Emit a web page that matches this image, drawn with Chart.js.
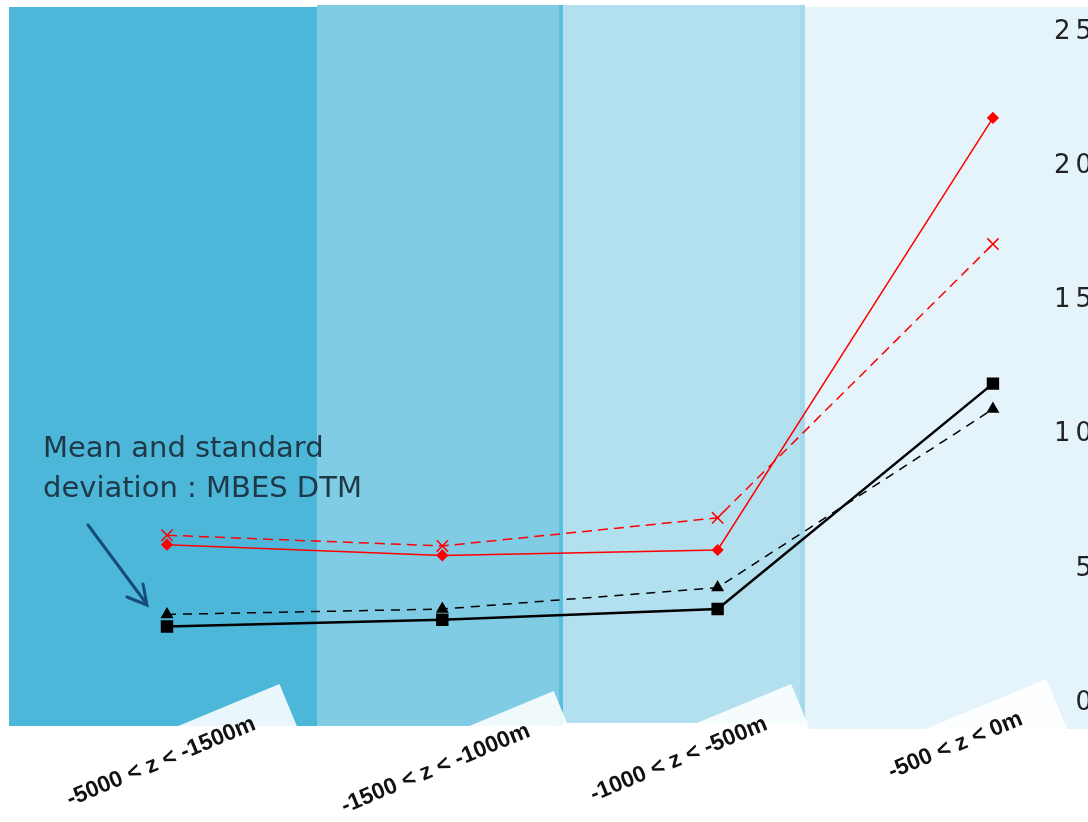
<!DOCTYPE html>
<html>
<head>
<meta charset="utf-8">
<script src="https://cdn.jsdelivr.net/npm/chart.js@4"></script>
<style>
html, body { margin: 0; padding: 0; background: #fff; overflow: hidden; }
#wrap { width: 1097px; height: 822px; }
</style>
</head>
<body>
<div id="wrap"><canvas id="depthChart" width="1097" height="822"></canvas></div>
<script>
// depth classes and values per class
const categories = ['-5000 < z < -1500m', '-1500 < z < -1000m', '-1000 < z < -500m', '-500 < z < 0m'];
const refMean  = [5.9, 5.5, 5.7, 21.8];
const refStd   = [6.25, 5.85, 6.9, 17.1];
const mbesMean = [2.85, 3.1, 3.5, 11.9];
const mbesStd  = [3.3, 3.5, 4.3, 10.95];
const yTicks   = [0, 5, 10, 15, 20, 25];

// classes sit at x = 0..3; the range leaves room for the bands on the left
const xMin = -0.6065;
const xMax = 3.160;

// background depth bands (x in class units, y in axis units)
const bands = [
    { from: -0.574, to: 0.545, top: 25.93, bottom: -0.857, color: '#4DB7DA' },
    { from: 0.545, to: 1.424, top: 26.0, bottom: -0.857, color: '#80CCE4' },
    { from: 1.424, to: 1.438, top: 26.0, bottom: -0.857, color: '#5BBDDF' },
    { from: 2.299, to: 3.6, top: 25.93, bottom: -0.97, color: '#E4F4FA' },
    { from: 1.438, to: 2.317, top: 26.0, bottom: -0.745, color: '#B2E0EE' },
    { from: 2.299, to: 2.317, top: 26.0, bottom: -0.745, color: '#A3D9EB' }
];

// nudges of the slanted class labels from their tick (px)
const labelShift = [[90, 26], [89, 33], [51, 26], [31, 21]];
const labelAngle = 22.5 * Math.PI / 180;
const labelFont = 'bold 23px "Liberation Sans", Arial, sans-serif';

const toPoints = arr => arr.map((v, i) => ({ x: i, y: v }));

const backdrop = {
    id: 'backdrop',
    beforeDraw(chart) {
        const { ctx, scales: { x, y } } = chart;
        ctx.save();
        bands.forEach(b => {
            const x1 = Math.round(x.getPixelForValue(b.from));
            const x2 = Math.round(x.getPixelForValue(b.to));
            const y1 = Math.round(y.getPixelForValue(b.top));
            const y2 = Math.round(y.getPixelForValue(b.bottom));
            ctx.fillStyle = b.color;
            ctx.fillRect(x1, y1, x2 - x1, y2 - y1);
        });
        ctx.restore();
        // extra spacing for the right axis numbers
        ctx.letterSpacing = '5px';
    },
    beforeDatasetsDraw(chart) {
        const { ctx, scales: { x, y } } = chart;
        ctx.letterSpacing = '0px';
        // pale boxes behind the class labels
        categories.forEach((label, i) => {
            ctx.save();
            ctx.translate(x.getPixelForValue(i) + labelShift[i][0], y.getPixelForValue(0) + labelShift[i][1]);
            ctx.rotate(-labelAngle);
            ctx.font = labelFont;
            const w = ctx.measureText(label).width;
            ctx.fillStyle = 'rgba(255,255,255,0.88)';
            ctx.fillRect(-w - 40, -33, w + 78, 60);
            ctx.restore();
        });
    },
    afterDatasetsDraw(chart) {
        const { ctx, scales: { x, y } } = chart;
        ctx.save();
        ctx.fillStyle = '#111';
        ctx.font = labelFont;
        ctx.textAlign = 'right';
        ctx.textBaseline = 'alphabetic';
        categories.forEach((label, i) => {
            ctx.save();
            ctx.translate(x.getPixelForValue(i) + labelShift[i][0], y.getPixelForValue(0) + labelShift[i][1]);
            ctx.rotate(-labelAngle);
            ctx.fillText(label, 0, 0);
            ctx.restore();
        });

        // note with arrow pointing at the MBES curves
        ctx.textAlign = 'left';
        ctx.fillStyle = '#1E3848';
        ctx.font = '29px "DejaVu Sans", sans-serif';
        ctx.fillText('Mean and standard', 43, 457);
        ctx.fillText('deviation : MBES DTM', 43, 497);

        ctx.strokeStyle = '#164C7C';
        ctx.lineWidth = 3;
        ctx.lineCap = 'round';
        ctx.beginPath();
        ctx.moveTo(88, 525);
        ctx.lineTo(146, 603);
        ctx.moveTo(127, 597);
        ctx.lineTo(147, 605);
        ctx.lineTo(143, 584);
        ctx.stroke();
        ctx.restore();
    }
};

new Chart(document.getElementById('depthChart').getContext('2d'), {
    type: 'line',
    data: {
        datasets: [
            {
                data: toPoints(refMean),
                borderColor: '#FF0000', backgroundColor: '#FF0000',
                borderWidth: 1.5,
                pointStyle: 'rectRot', pointRadius: 5,
                clip: false
            },
            {
                data: toPoints(refStd),
                borderColor: '#FF0000', backgroundColor: '#FF0000',
                borderWidth: 1.5, borderDash: [10, 6],
                pointStyle: 'crossRot', pointRadius: 8, pointBorderWidth: 1.5,
                clip: false
            },
            {
                data: toPoints(mbesMean),
                borderColor: '#000', backgroundColor: '#000',
                borderWidth: 2.5,
                pointStyle: 'rect', pointRadius: 7,
                clip: false
            },
            {
                data: toPoints(mbesStd),
                borderColor: '#000', backgroundColor: '#000',
                borderWidth: 1.5, borderDash: [9, 7],
                pointStyle: 'triangle', pointRadius: 6,
                clip: false
            }
        ]
    },
    options: {
        responsive: false,
        animation: false,
        events: [],
        layout: { autoPadding: false, padding: { left: 0, top: 32, bottom: 119, right: 0 } },
        plugins: { legend: { display: false }, tooltip: { enabled: false } },
        scales: {
            x: { type: 'linear', min: xMin, max: xMax, display: false },
            y: {
                position: 'right',
                min: 0, max: 25,
                afterBuildTicks: s => { s.ticks = yTicks.map(v => ({ value: v })); },
                afterFit: s => { s.width = 60; },
                grid: { display: false },
                border: { display: false },
                ticks: {
                    padding: 0,
                    crossAlign: 'far',
                    color: '#222',
                    font: { family: '"DejaVu Sans", sans-serif', size: 26 }
                }
            }
        }
    },
    plugins: [backdrop]
});
</script>
</body>
</html>
